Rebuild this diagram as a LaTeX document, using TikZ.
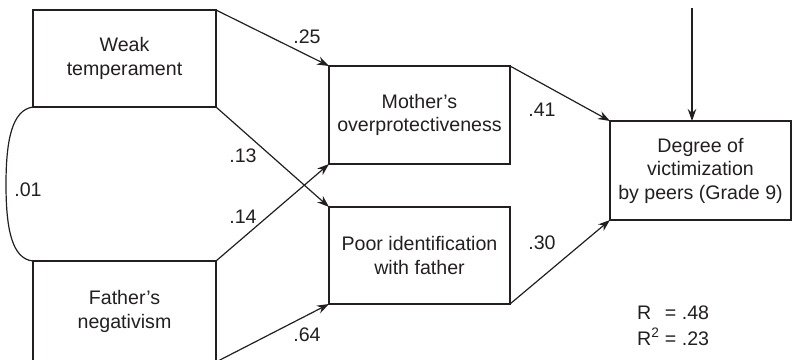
\documentclass[tikz,border=0pt]{standalone}
\usepackage{fontspec}
\setmainfont{Liberation Sans}
\usetikzlibrary{arrows.meta}
\definecolor{ink}{RGB}{35,31,32}
\begin{document}
\begin{tikzpicture}[x=1pt,y=-1pt,
  box/.style={draw=ink, line width=1.2pt, rectangle, inner sep=0pt, outer sep=0pt, align=center, text=ink, font=\fontsize{19.6}{23.5}\selectfont},
  conn/.style={draw=ink, line width=1.2pt, -{Stealth[length=12pt,width=8.5pt]}},
  lab/.style={text=ink, inner sep=0pt, font=\fontsize{19.6}{23.5}\selectfont}]
\useasboundingbox (0,0) rectangle (793,359);
\clip (0,0) rectangle (793,359);
\node[box, minimum width=183pt, minimum height=97pt] (weak) at (124.5,58.5) {Weak\\temperament};
\node[box, minimum width=183pt, minimum height=101pt] (father) at (124.5,311.5) {Father’s\\negativism};
\node[box, minimum width=181pt, minimum height=98pt] (mother) at (419.5,115) {Mother’s\\overprotectiveness};
\node[box, minimum width=181pt, minimum height=97pt] (poor) at (419.5,255.5) {Poor identification\\with father};
\node[box, minimum width=181pt, minimum height=99pt] (degree) at (700.5,170.5) {Degree of\\victimization\\by peers (Grade 9)};
\coordinate (err) at (692,8);
\draw[conn] (weak.north east) -- (mother.north west);
\draw[conn] (weak.south east) -- (poor.north west);
\draw[conn] (father.north east) -- (mother.south west);
\draw[conn] (father.south east) -- (poor.south west);
\draw[conn] (mother.north east) -- (degree.north west);
\draw[conn] (poor.south east) -- (degree.south west);
\draw[conn] (err) -- (err |- degree.north);
\draw[ink, line width=1.2pt] (weak.south west) .. controls (12,110) and (6,140) .. (6,184.5) .. controls (6,229) and (12,259) .. (father.north west);
\node[lab] (l25) at (307,37) {.25};
\node[lab] (l13) at (243,156) {.13};
\node[lab] (l14) at (243,217) {.14};
\node[lab] (l64) at (307,335) {.64};
\node[lab] (l41) at (542,110) {.41};
\node[lab] (l30) at (542,243) {.30};
\node[lab] (l01) at (28,190) {.01};
\node[lab, anchor=base west] (rr1) at (637,319) {R\hphantom{\textsuperscript{2}} = .48};
\node[lab, anchor=base west] (rr2) at (637,345) {R\textsuperscript{2} = .23};
\end{tikzpicture}
\end{document}
